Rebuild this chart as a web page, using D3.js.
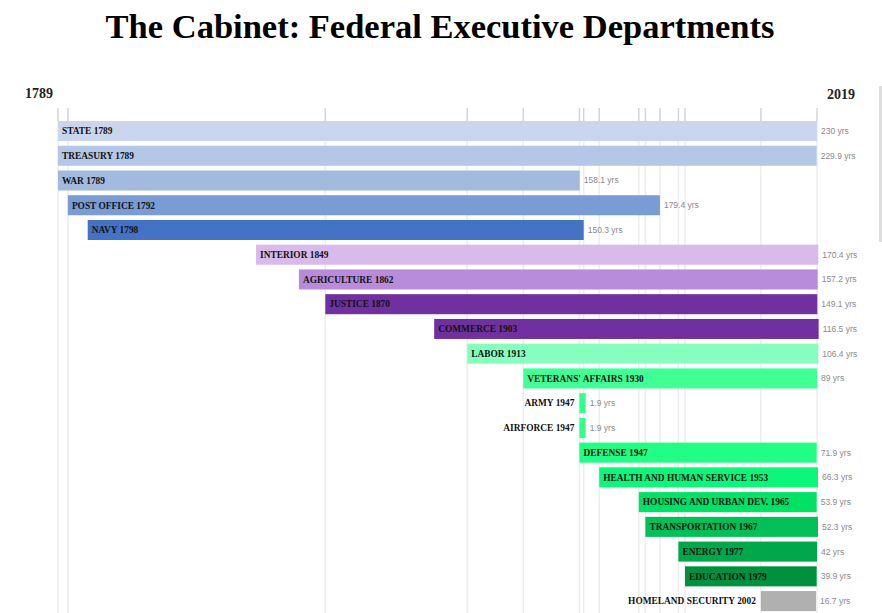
<!DOCTYPE html>
<html>
<head>
<meta charset="utf-8">
<script src="https://cdn.jsdelivr.net/npm/d3@7"></script>
<style>
  html, body { margin: 0; padding: 0; background: #fff; }
  svg { display: block; }
</style>
</head>
<body>
<svg id="chart" width="882" height="613"></svg>
<script>
// ---- data ----
const departments = ["STATE", "TREASURY", "WAR", "POST OFFICE", "NAVY", "INTERIOR", "AGRICULTURE", "JUSTICE",
  "COMMERCE", "LABOR", "VETERANS' AFFAIRS", "ARMY", "AIRFORCE", "DEFENSE", "HEALTH AND HUMAN SERVICE",
  "HOUSING AND URBAN DEV.", "TRANSPORTATION", "ENERGY", "EDUCATION", "HOMELAND SECURITY"];
const startYears = [1789, 1789, 1789, 1792, 1798, 1849, 1862, 1870, 1903, 1913, 1930, 1947, 1947, 1947, 1953,
  1965, 1967, 1977, 1979, 2002];
const durations = [230, 229.9, 158.1, 179.4, 150.3, 170.4, 157.2, 149.1, 116.5, 106.4, 89, 1.9, 1.9, 71.9, 66.3,
  53.9, 52.3, 42, 39.9, 16.7];
const colors = ["#c9d6ed", "#b4c7e7", "#a3badf", "#7a9cd4", "#4472c4", "#d8bbea", "#b98cdb", "#7030a0",
  "#7030a0", "#86ffbe", "#3fff95", "#33ff8f", "#33ff8f", "#20ff84", "#0cf77a", "#00e266", "#00c057",
  "#00a84b", "#00913e", "#b0b0b0"];
const labelOutside = ["ARMY", "AIRFORCE", "HOMELAND SECURITY"];
const gridYears = [1789, 1792, 1870, 1913, 1930, 1947, 1948.3, 1953, 1965, 1967, 1971.4, 1977, 1979, 2002, 2019];
const domainYears = [1789, 2019];
const title = "The Cabinet: Federal Executive Departments";

const rows = departments.map((d, i) => ({
  name: d, start: startYears[i], dur: durations[i], color: colors[i]
}));

const svg = d3.select("#chart");

const x = d3.scaleLinear().domain(domainYears).range([58, 817]);
const y = d3.scaleBand().domain(departments).range([121, 620.5])
  .paddingInner(0.19).paddingOuter(0.19).align(0);

// title
svg.append("text")
  .attr("x", 440).attr("y", 38)
  .attr("text-anchor", "middle")
  .attr("font-family", "'Liberation Serif', 'Times New Roman', serif")
  .attr("font-weight", "bold")
  .attr("font-size", 34.5)
  .attr("fill", "#000")
  .text(title);

// end-year labels
svg.append("text")
  .attr("x", 25).attr("y", 98)
  .attr("font-family", "'Liberation Serif', 'Times New Roman', serif")
  .attr("font-weight", "bold").attr("font-size", 14).attr("fill", "#222")
  .text(domainYears[0]);
svg.append("text")
  .attr("x", 827).attr("y", 99)
  .attr("font-family", "'Liberation Serif', 'Times New Roman', serif")
  .attr("font-weight", "bold").attr("font-size", 14).attr("fill", "#222")
  .text(domainYears[1]);

// gridlines (behind bars)
const grid = svg.append("g");
grid.selectAll("line.g")
  .data(gridYears)
  .join("line")
  .attr("class", "g")
  .attr("x1", d => x(d)).attr("x2", d => x(d))
  .attr("y1", 120).attr("y2", 613)
  .attr("stroke", "#ececec").attr("stroke-width", 1.5);
// top ticks
grid.selectAll("line.t")
  .data(gridYears)
  .join("line")
  .attr("class", "t")
  .attr("x1", d => x(d)).attr("x2", d => x(d))
  .attr("y1", 108).attr("y2", 121)
  .attr("stroke", "#d4d4d4").attr("stroke-width", 1.5);

// page scrollbar hint
svg.append("rect")
  .attr("x", 879).attr("y", 86).attr("width", 3).attr("height", 156)
  .attr("fill", "#dedede");

// bars
const g = svg.append("g");
g.selectAll("rect.bar")
  .data(rows)
  .join("rect")
  .attr("class", "bar")
  .attr("x", d => x(d.start))
  .attr("y", d => y(d.name))
  .attr("width", d => x(d.start + d.dur) - x(d.start))
  .attr("height", y.bandwidth())
  .attr("fill", d => d.color);

// department labels
g.selectAll("text.name")
  .data(rows)
  .join("text")
  .attr("class", "name")
  .attr("x", d => labelOutside.includes(d.name) ? x(d.start) - 5 : x(d.start) + 4)
  .attr("y", d => y(d.name) + y.bandwidth() / 2)
  .attr("dy", "0.35em")
  .attr("text-anchor", d => labelOutside.includes(d.name) ? "end" : "start")
  .attr("font-family", "'Liberation Serif', 'Times New Roman', serif")
  .attr("font-weight", "bold")
  .attr("font-size", 9.4)
  .attr("fill", "#111")
  .text(d => d.name + " " + d.start);

// value labels
g.selectAll("text.val")
  .data(rows)
  .join("text")
  .attr("class", "val")
  .attr("x", d => x(d.start + d.dur) + 4)
  .attr("y", d => y(d.name) + y.bandwidth() / 2)
  .attr("dy", "0.35em")
  .attr("font-family", "'Liberation Sans', Arial, sans-serif")
  .attr("font-size", 8.5)
  .attr("fill", "#8a8a8a")
  .text(d => d.dur + " yrs");
</script>
</body>
</html>
